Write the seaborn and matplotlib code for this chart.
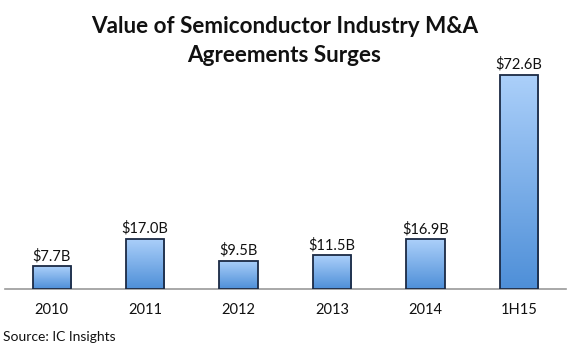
import numpy as np
import pandas as pd
import matplotlib
matplotlib.use('Agg')
import matplotlib.pyplot as plt
from matplotlib.colors import LinearSegmentedColormap
import seaborn as sns

# data
years = ['2010', '2011', '2012', '2013', '2014', '1H15']
values = [7.7, 17.0, 9.5, 11.5, 16.9, 72.6]
labels = ['$7.7B', '$17.0B', '$9.5B', '$11.5B', '$16.9B', '$72.6B']

df = pd.DataFrame({'year': years, 'value': values})

sns.set_style('white')
plt.rcParams['font.family'] = ['Lato', 'DejaVu Sans']

fig = plt.figure(figsize=(5.69, 3.55), dpi=100)
ax = fig.add_axes([0.009, 0.186, 0.985, 0.665])

sns.barplot(data=df, x='year', y='value', ax=ax, width=0.41,
            color='#7fb2ec', edgecolor='#1b2a44', linewidth=1.3, zorder=2)

# gradient fill clipped to each bar
cmap = LinearSegmentedColormap.from_list('grad', ['#4e8fd8', '#acd0fa'])
grad = np.linspace(0, 1, 256).reshape(-1, 1)
for p in ax.patches:
    x0, y0 = p.get_x(), p.get_y()
    w, h = p.get_width(), p.get_height()
    im = ax.imshow(grad, cmap=cmap, aspect='auto', origin='lower',
                   extent=[x0, x0 + w, y0, y0 + h], zorder=2.5)
    im.set_clip_path(p)
    p.set_facecolor('none')
    p.set_zorder(3)

for i, (v, lab) in enumerate(zip(values, labels)):
    ax.text(i, v + 1.0, lab, ha='center', va='bottom', fontsize=10.5, color='#111111')

ax.set_xlim(-0.5, 5.5)
ax.set_ylim(0, 80)
ax.set_xlabel('')
ax.set_ylabel('')
ax.set_yticks([])
sns.despine(ax=ax, left=True, top=True, right=True)
ax.spines['bottom'].set_color('#9a9a9a')
ax.spines['bottom'].set_linewidth(1.2)

# category labels at centres, tick marks at boundaries
ax.set_xticks(range(len(years)))
ax.set_xticklabels(years, fontsize=10.5, color='#111111')
ax.tick_params(axis='x', which='major', length=0, pad=10)
ax.set_xticks(np.arange(-0.5, len(years)), minor=True)
ax.tick_params(axis='x', which='minor', length=5, width=1, color='#9a9a9a', direction='out')

fig.text(0.5, 0.925, 'Value of Semiconductor Industry M&A', ha='center', va='center',
         fontsize=16.2, fontweight='bold', color='#111111')
fig.text(0.5, 0.843, 'Agreements Surges', ha='center', va='center',
         fontsize=16.2, fontweight='bold', color='#111111')
fig.text(0.005, 0.05, 'Source: IC Insights', ha='left', va='center', fontsize=10, color='#111111')

fig.savefig('out.png', dpi=100)
